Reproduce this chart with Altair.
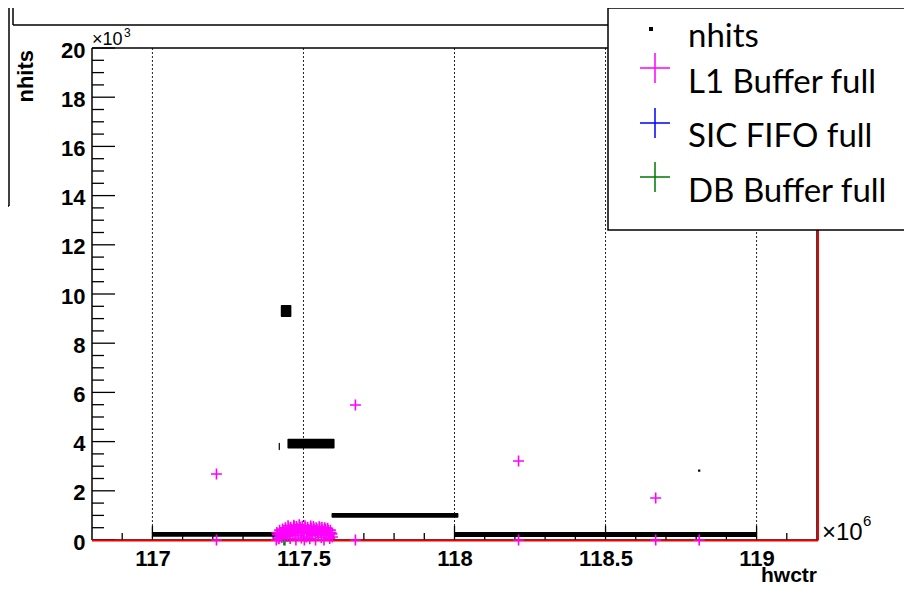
import altair as alt
import pandas as pd

# ---------------- data (hwctr in units of 1e6, nhits in units of 1e3) ----------------
# dense black "nhits" bands read as (start, end, low, high)
nhits_seg_start = [117.000, 117.418, 117.425, 117.447, 117.593, 118.000]
nhits_seg_end = [117.410, 117.422, 117.460, 117.603, 118.013, 119.000]
nhits_seg_low = [0.13, 3.65, 9.07, 3.72, 0.90, 0.12]
nhits_seg_high = [0.33, 3.95, 9.55, 4.12, 1.10, 0.33]
nhits_pt_x = [118.810]
nhits_pt_y = [2.82]

# L1 Buffer full (magenta crosses)
l1_x = [117.212, 117.212, 117.672, 117.672, 118.212, 118.212, 118.666, 118.666, 118.810]
l1_y = [2.68, 0.00, 5.49, 0.00, 3.21, 0.00, 1.71, 0.00, 0.00]
l1_cluster_x = [117.410, 117.414, 117.419, 117.423, 117.428, 117.433, 117.437, 117.442, 117.447, 117.451,
                117.456, 117.461, 117.465, 117.470, 117.475, 117.479, 117.484, 117.489, 117.493, 117.498,
                117.503, 117.507, 117.512, 117.517, 117.521, 117.526, 117.531, 117.535, 117.540, 117.545,
                117.549, 117.554, 117.559, 117.563, 117.568, 117.573, 117.577, 117.582, 117.587, 117.591,
                117.596]
l1_cluster_y = [0.00, 0.22, 0.05, 0.30, 0.10, 0.38, 0.12, 0.42, 0.15, 0.50,
                0.06, 0.44, 0.20, 0.55, 0.00, 0.47, 0.18, 0.52, 0.08, 0.45,
                0.00, 0.50, 0.25, 0.43, 0.05, 0.48, 0.20, 0.46, 0.00, 0.44,
                0.22, 0.49, 0.10, 0.42, 0.00, 0.45, 0.18, 0.40, 0.06, 0.30,
                0.12]
l1_cluster2_x = [117.412, 117.417, 117.421, 117.426, 117.431, 117.435, 117.440, 117.444, 117.449, 117.454,
                 117.458, 117.463, 117.468, 117.472, 117.477, 117.482, 117.486, 117.491, 117.496, 117.500,
                 117.505, 117.510, 117.514, 117.519, 117.524, 117.528, 117.533, 117.538, 117.542, 117.547,
                 117.552, 117.556, 117.561, 117.566, 117.570, 117.575, 117.580, 117.584, 117.589, 117.594]
l1_cluster2_y = [0.30, 0.08, 0.40, 0.18, 0.45, 0.25, 0.50, 0.30, 0.58, 0.25,
                 0.52, 0.35, 0.60, 0.28, 0.55, 0.32, 0.62, 0.30, 0.56, 0.35,
                 0.58, 0.12, 0.52, 0.30, 0.57, 0.25, 0.55, 0.35, 0.50, 0.28,
                 0.54, 0.30, 0.52, 0.22, 0.50, 0.30, 0.48, 0.20, 0.40, 0.25]
# DB Buffer full (green) and SIC FIFO full (blue, no entries visible)
db_x = [117.437]
db_y = [0.00]
sic_x = []
sic_y = []

x_major = [117, 117.5, 118, 118.5, 119]
x_minor = [116.9, 117.1, 117.2, 117.3, 117.4, 117.6, 117.7, 117.8, 117.9, 118.1,
           118.2, 118.3, 118.4, 118.6, 118.7, 118.8, 118.9, 119.1]
y_major = [0, 2, 4, 6, 8, 10, 12, 14, 16, 18, 20]
y_minor = [0.5, 1, 1.5, 2.5, 3, 3.5, 4.5, 5, 5.5, 6.5, 7, 7.5, 8.5, 9, 9.5, 10.5, 11, 11.5,
           12.5, 13, 13.5, 14.5, 15, 15.5, 16.5, 17, 17.5, 18.5, 19, 19.5]
legend_labels = ["nhits", "L1 Buffer full", "SIC FIFO full", "DB Buffer full"]
x_domain = [116.8, 119.2]
y_domain = [0, 20]

# ---------------- chart ----------------
W, H = 725, 492
AXF = "Liberation Sans"
CROSS = "M-1,0L1,0M0,-1L0,1"
MAG, BLUE, GREEN = "#ff00ff", "#0000ff", "#007a00"

XS = alt.Scale(domain=x_domain, nice=False, zero=False)
YS = alt.Scale(domain=y_domain, nice=False, zero=False)
X_AXIS = alt.Axis(values=x_major, format=".1~f", grid=False, domain=False, ticks=False,
                  labelFont=AXF, labelFontSize=22, labelFontWeight="bold", labelColor="black",
                  labelPadding=8, labelFlush=False, labelOverlap=False, title=None)
Y_AXIS = alt.Axis(values=y_major, format="d", grid=False, domain=False, ticks=False,
                  labelFont=AXF, labelFontSize=22, labelFontWeight="bold", labelColor="black",
                  labelPadding=7, labelOffset=2, labelFlush=False, labelOverlap=False, title=None)


def X(f):
    return alt.X(f, type="quantitative", scale=XS, axis=X_AXIS)


def Y(f):
    return alt.Y(f, type="quantitative", scale=YS, axis=Y_AXIS)


dummy = pd.DataFrame({"a": [0]})
df_xmaj = pd.DataFrame({"x": x_major})
df_xmin = pd.DataFrame({"x": x_minor})
df_ymaj = pd.DataFrame({"y": y_major})
df_ymin = pd.DataFrame({"y": y_minor})
df_seg = pd.DataFrame({"x": nhits_seg_start, "x2": nhits_seg_end, "y": nhits_seg_low, "y2": nhits_seg_high})
df_npt = pd.DataFrame({"x": nhits_pt_x, "y": nhits_pt_y})
df_l1 = pd.DataFrame({"x": l1_x + l1_cluster_x + l1_cluster2_x,
                      "y": l1_y + l1_cluster_y + l1_cluster2_y})
df_db = pd.DataFrame({"x": db_x, "y": db_y})

layers = []
# dotted grid
layers.append(alt.Chart(df_xmaj).mark_rule(color="#222", strokeWidth=1, strokeDash=[2, 2]).encode(
    x=X("x"), y=alt.value(0), y2=alt.value(H)))
# ticks
layers.append(alt.Chart(df_xmaj).mark_rule(color="black", strokeWidth=1.3).encode(
    x=X("x"), y=alt.value(H), y2=alt.value(H - 14)))
layers.append(alt.Chart(df_xmin).mark_rule(color="black", strokeWidth=1.3).encode(
    x=X("x"), y=alt.value(H), y2=alt.value(H - 7)))
layers.append(alt.Chart(df_ymaj).mark_rule(color="black", strokeWidth=1.3).encode(
    y=Y("y"), x=alt.value(0), x2=alt.value(23)))
layers.append(alt.Chart(df_ymin).mark_rule(color="black", strokeWidth=1.3).encode(
    y=Y("y"), x=alt.value(0), x2=alt.value(12)))
# frame
for enc in [dict(x=alt.value(0), x2=alt.value(W), y=alt.value(0)),
            dict(x=alt.value(0), x2=alt.value(W), y=alt.value(H)),
            dict(x=alt.value(0), y=alt.value(0), y2=alt.value(H)),
            dict(x=alt.value(W), y=alt.value(0), y2=alt.value(H))]:
    layers.append(alt.Chart(dummy).mark_rule(color="black", strokeWidth=1.5).encode(**enc))
# red histogram outline
layers.append(alt.Chart(dummy).mark_rule(color="#ee0000", strokeWidth=2).encode(
    x=alt.value(0), x2=alt.value(W + 1), y=alt.value(H + 0.5)))
layers.append(alt.Chart(dummy).mark_rule(color="#ee0000", strokeWidth=2).encode(
    x=alt.value(W + 1), y=alt.value(0), y2=alt.value(H + 0.5)))
# nhits
layers.append(alt.Chart(df_seg).mark_rect(color="black", cornerRadius=1).encode(
    x=X("x"), x2="x2", y=Y("y"), y2="y2"))
layers.append(alt.Chart(df_npt).mark_square(color="black", size=5, opacity=1).encode(
    x=X("x"), y=Y("y")))
# DB buffer full
layers.append(alt.Chart(df_db).mark_point(shape=CROSS, filled=False, size=121, strokeWidth=2.5,
                                          color=GREEN, opacity=1).encode(x=X("x"), y=Y("y")))
# L1 buffer full
layers.append(alt.Chart(df_l1).mark_point(shape=CROSS, filled=False, size=121, strokeWidth=1.6,
                                          color=MAG, opacity=1).encode(x=X("x"), y=Y("y")))

# axis titles and exponents
layers.append(alt.Chart(dummy).mark_text(text="nhits", font=AXF, fontSize=22, fontWeight="bold",
                                         angle=270, align="right", baseline="alphabetic",
                                         color="black").encode(x=alt.value(-59), y=alt.value(2)))
layers.append(alt.Chart(dummy).mark_text(text="hwctr", font=AXF, fontSize=21, fontWeight="bold",
                                         align="right", baseline="alphabetic",
                                         color="black").encode(x=alt.value(W), y=alt.value(534)))
layers.append(alt.Chart(dummy).mark_text(text="\u00d710", font=AXF, fontSize=18, align="left",
                                         baseline="alphabetic", color="black").encode(
    x=alt.value(0), y=alt.value(-3)))
layers.append(alt.Chart(dummy).mark_text(text="3", font=AXF, fontSize=12, align="left",
                                         baseline="alphabetic", color="black").encode(
    x=alt.value(32), y=alt.value(-11)))
layers.append(alt.Chart(dummy).mark_text(text="\u00d710", font=AXF, fontSize=24, align="left",
                                         baseline="alphabetic", color="black").encode(
    x=alt.value(730), y=alt.value(492)))
layers.append(alt.Chart(dummy).mark_text(text="6", font=AXF, fontSize=15, align="left",
                                         baseline="alphabetic", color="black").encode(
    x=alt.value(771), y=alt.value(478)))

# title box and stats box remnants
layers.append(alt.Chart(dummy).mark_rule(color="black", strokeWidth=1.5).encode(
    x=alt.value(-79), x2=alt.value(516), y=alt.value(-23)))
layers.append(alt.Chart(dummy).mark_rule(color="black", strokeWidth=1.5).encode(
    x=alt.value(-79), y=alt.value(-41), y2=alt.value(-23)))
layers.append(alt.Chart(dummy).mark_rule(color="black", strokeWidth=1.5).encode(
    x=alt.value(-83), y=alt.value(-41), y2=alt.value(158)))
layers.append(alt.Chart(dummy).mark_rule(color="black", strokeWidth=1.5).encode(
    x=alt.value(-92), x2=alt.value(-83), y=alt.value(158)))

# legend
layers.append(alt.Chart(dummy).mark_rect(fill="white", stroke="black", strokeWidth=1.5).encode(
    x=alt.value(516), x2=alt.value(840), y=alt.value(-40), y2=alt.value(182)))
layers.append(alt.Chart(dummy).mark_square(color="black", size=16, opacity=1).encode(
    x=alt.value(559), y=alt.value(-19)))
for col, yy in [(MAG, 20), (BLUE, 75), (GREEN, 129)]:
    layers.append(alt.Chart(dummy).mark_point(shape=CROSS, filled=False, size=900, strokeWidth=1.5,
                                              color=col, opacity=1).encode(
        x=alt.value(563), y=alt.value(yy)))
for lab, yy in zip(legend_labels, [-1, 45, 99, 154]):
    layers.append(alt.Chart(dummy).mark_text(text=lab, font="Lato", fontSize=33, align="left",
                                             baseline="alphabetic", color="black").encode(
        x=alt.value(596), y=alt.value(yy)))

chart = alt.layer(*layers).properties(
    width=W, height=H,
    padding={"left": 84, "top": 40, "right": 87, "bottom": 44},
    autosize=alt.AutoSizeParams(type="none"),
    background="white",
).configure_view(strokeWidth=0)

chart.save("out.html", embed_options={"renderer": "svg", "actions": False})
